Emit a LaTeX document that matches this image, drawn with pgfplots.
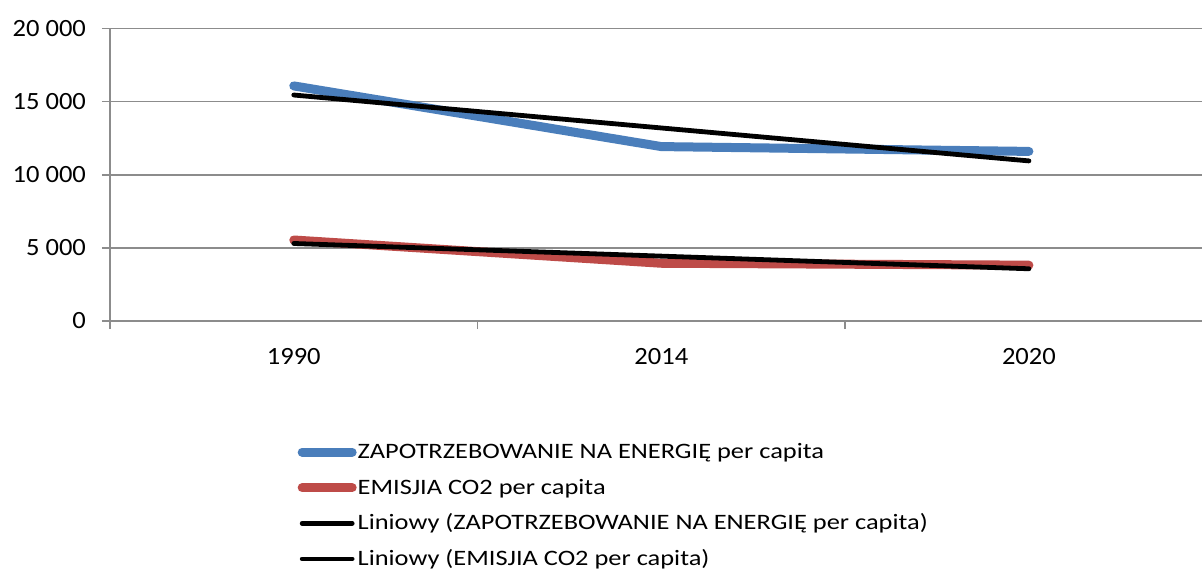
\documentclass[border=0pt]{standalone}
\usepackage{fontspec}
\setmainfont{Carlito}
\newfontfamily\legfont[FakeStretch=1.2]{Carlito}
\newfontfamily\tickfont[FakeStretch=1.07]{Carlito}
\usepackage{pgfplots}
\pgfplotsset{compat=1.18}
\definecolor{eblue}{HTML}{4A7EBB}
\definecolor{ered}{HTML}{BE4B48}
\definecolor{gridc}{HTML}{8C8C8C}
\begin{document}
\begin{tikzpicture}
\begin{axis}[
  scale only axis,
  width=546pt, height=146.2pt,
  xmin=-0.5, xmax=2.471,
  ymin=0, ymax=20000,
  axis x line*=bottom, axis y line*=left,
  axis line style={gridc, line width=0.8pt, -},
  xtick={0,1,2}, xticklabels={1990,2014,2020},
  major x tick style={draw=none},
  minor xtick={-0.5,0.5,1.5,2.5},
  minor x tick style={gridc, line width=0.8pt},
  minor tick length=4pt,
  ytick={0,5000,10000,15000,20000},
  major y tick style={gridc, line width=0.8pt},
  major tick length=4pt,
  tick align=outside,
  ymajorgrids, grid style={gridc, line width=0.8pt},
  /pgf/number format/.cd, 1000 sep={\ }, assume math mode=true, /pgfplots/.cd,
  scaled y ticks=false,
  tick label style={font=\tickfont\fontsize{12.4}{14}\selectfont, black},
  yticklabel style={xshift=-4.5pt},
  xticklabel style={yshift=-6pt},
  legend cell align=left,
  legend style={draw=none, fill=none, at={(0.1715,-0.408)}, anchor=north west,
    font=\legfont\fontsize{11}{13}\selectfont, inner sep=0pt, row sep=5.8pt,
    column sep=0pt,
    nodes={inner sep=0.5pt, text height=8.5pt, text depth=2.5pt, anchor=base west}},
  legend image code/.code={\draw[#1] (2pt,3.3pt) -- (27pt,3.3pt);},
]
\addplot[eblue, line width=4.5pt, line cap=round, line join=round] coordinates {(0,16080) (1,11930) (2,11600)};
\addlegendentry{ZAPOTRZEBOWANIE NA ENERGIĘ per capita}
\addplot[ered, line width=4.5pt, line cap=round, line join=round] coordinates {(0,5540) (1,3950) (2,3820)};
\addlegendentry{EMISJIA CO2 per capita}
\addplot[black, line width=2.4pt, line cap=round] coordinates {(0,15457) (1,13203) (2,10950)};
\addlegendentry{Liniowy (ZAPOTRZEBOWANIE NA ENERGIĘ per capita)}
\addplot[black, line width=2.4pt, line cap=round] coordinates {(0,5302) (1,4437) (2,3572)};
\addlegendentry{Liniowy (EMISJIA CO2 per capita)}
\end{axis}
\pgfresetboundingbox
\path[use as bounding box] (-55pt,-125pt) rectangle (546pt,160.5pt);
\end{tikzpicture}
\end{document}
